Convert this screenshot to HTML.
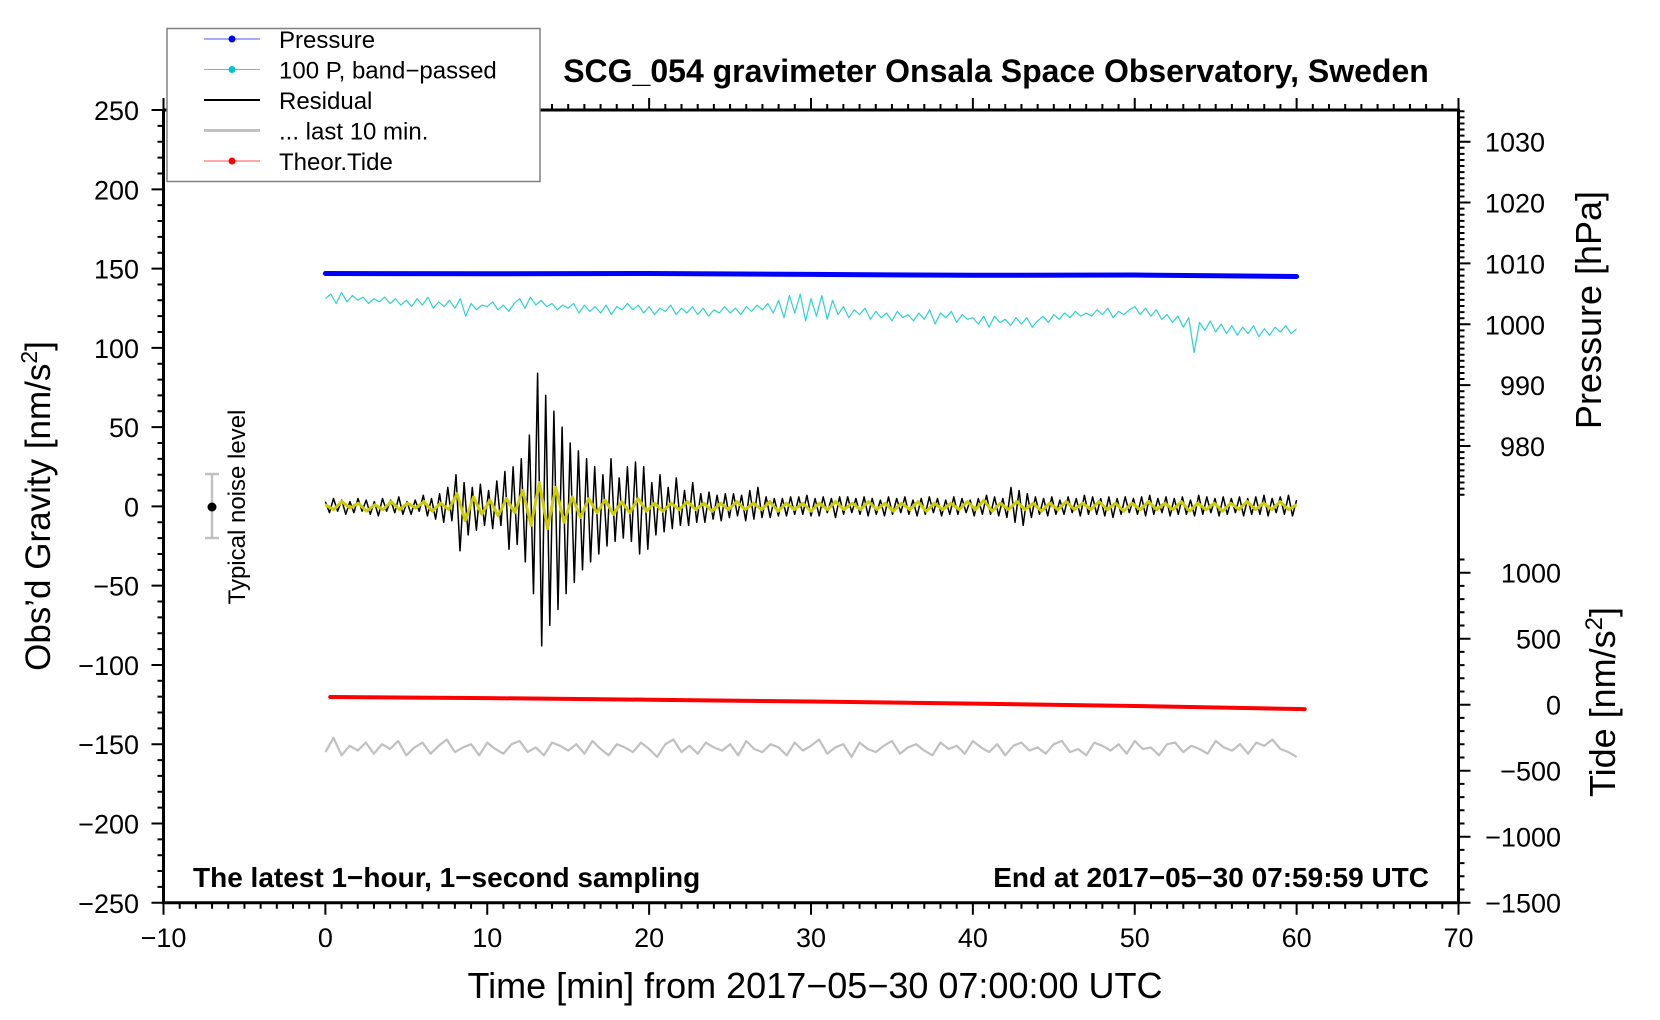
<!DOCTYPE html>
<html><head><meta charset="utf-8"><style>
body{margin:0;background:#fff}
svg{display:block;font-family:"Liberation Sans",sans-serif}
</style></head><body>
<svg id="chart" width="1660" height="1020" viewBox="0 0 1660 1020" xmlns="http://www.w3.org/2000/svg">
<rect width="1660" height="1020" fill="#fff"/>
<g id="plot"></g>
<g id="axes"></g>
<text x="996" y="82" font-size="32" font-weight="bold" text-anchor="middle">SCG_054 gravimeter Onsala Space Observatory, Sweden</text>
<text transform="translate(50,506) rotate(-90)" font-size="35" text-anchor="middle">Obs’d Gravity [nm/s<tspan font-size="23" dy="-13">2</tspan><tspan dy="13">]</tspan></text>
<text transform="translate(1601,310) rotate(-90)" font-size="36" text-anchor="middle">Pressure [hPa]</text>
<text transform="translate(1615,702) rotate(-90)" font-size="36" text-anchor="middle">Tide [nm/s<tspan font-size="24" dy="-13">2</tspan><tspan dy="13">]</tspan></text>
<text x="815" y="998" font-size="36" text-anchor="middle">Time [min] from 2017−05−30 07:00:00 UTC</text>
<text x="193" y="887" font-size="28" font-weight="bold">The latest 1−hour, 1−second sampling</text>
<text x="1429" y="887" font-size="28" font-weight="bold" text-anchor="end">End at 2017−05−30 07:59:59 UTC</text>
<g>
<line x1="212" y1="474" x2="212" y2="538" stroke="#c0c0c0" stroke-width="2.5"/>
<line x1="205" y1="474" x2="219" y2="474" stroke="#c0c0c0" stroke-width="2.5"/>
<line x1="205" y1="538" x2="219" y2="538" stroke="#c0c0c0" stroke-width="2.5"/>
<circle cx="212" cy="507" r="4.5" fill="#000"/>
<text transform="translate(245,507) rotate(-90)" font-size="24" text-anchor="middle">Typical noise level</text>
</g>
<g>
<rect x="167" y="28.5" width="373" height="153" fill="#fff" stroke="#808080" stroke-width="1.5"/>
<g><line x1="204" y1="39" x2="260" y2="39" stroke="#5050ff" stroke-width="1"/><circle cx="232" cy="39" r="3.5" fill="#0000ff"/><text x="279" y="48" font-size="24">Pressure</text></g>
<g><line x1="204" y1="69.5" x2="260" y2="69.5" stroke="#40d0d0" stroke-width="1"/><circle cx="232" cy="69.5" r="3.5" fill="#00c8c8"/><text x="279" y="78.5" font-size="24">100 P, band−passed</text></g>
<g><line x1="204" y1="100" x2="260" y2="100" stroke="#000" stroke-width="2"/><text x="279" y="109" font-size="24">Residual</text></g>
<g><line x1="204" y1="130.5" x2="260" y2="130.5" stroke="#c0c0c0" stroke-width="3"/><text x="279" y="139.5" font-size="24">... last 10 min.</text></g>
<g><line x1="204" y1="161" x2="260" y2="161" stroke="#ff5050" stroke-width="1"/><circle cx="232" cy="161" r="3.5" fill="#ff0000"/><text x="279" y="170" font-size="24">Theor.Tide</text></g>
</g>
</svg>
<script>
const pressureTimes=[0,10,20,30,40,50,60];
const pressureValues=[1008.35,1008.3,1008.35,1008.2,1008.05,1008.1,1007.85];
const tideTimes=[0.3,10,20,30,40,50,60.5];
const tideValues=[58,50,38,24,8,-10,-33];
const bandpassValues=[131,134,128,135,129,133,130,132,128,131,129,132,128,131,127,130,126,131,127,132,125,129,126,130,125,131,120,128,124,127,126,129,124,127,123,128,131,125,132,127,130,126,128,124,127,125,128,122,127,123,126,122,127,121,126,124,128,124,127,122,126,121,125,123,127,121,125,122,126,121,125,120,124,122,126,122,125,121,126,123,127,124,128,122,130,119,133,122,134,117,131,120,133,118,130,121,126,119,124,121,125,118,123,119,122,117,123,119,121,117,122,118,124,115,122,119,123,116,121,118,119,115,120,113,120,116,118,114,119,115,119,113,117,120,116,121,118,122,119,123,120,122,120,124,121,125,119,123,121,124,126,121,125,120,124,118,121,116,120,113,119,97,116,111,117,110,115,109,114,108,113,109,114,107,112,108,113,110,114,109,112];
const residualValues=[3,-4,5,-3,4,-5,3,-4,5,-3,4,-5,3,-6,5,-3,4,-4,6,-5,3,-5,4,-3,7,-6,5,-8,8,-10,12,-9,20,-28,15,-18,12,-15,14,-12,10,-14,16,-12,22,-27,25,-24,30,-35,45,-55,84,-88,70,-75,60,-65,50,-55,40,-48,35,-40,30,-35,25,-30,20,-25,30,-22,18,-20,25,-22,28,-30,25,-27,15,-18,20,-16,12,-14,18,-12,10,-12,15,-10,8,-10,9,-8,7,-9,8,-7,8,-6,7,-9,10,-8,12,-7,6,-7,5,-6,5,-6,6,-5,6,-5,7,-6,5,-6,6,-4,5,-7,6,-5,6,-4,5,-5,6,-6,5,-5,4,-6,6,-5,5,-4,6,-5,4,-6,5,-5,6,-4,5,-6,4,-5,6,-5,5,-4,4,-6,5,-5,7,-5,6,-6,5,-7,12,-10,10,-12,8,-7,6,-5,5,-6,6,-5,4,-5,6,-4,5,-6,7,-5,6,-5,5,-6,6,-7,5,-5,6,-4,5,-5,6,-6,7,-5,5,-4,6,-6,5,-5,6,-5,4,-6,7,-5,6,-4,5,-6,6,-5,5,-4,6,-6,5,-5,6,-5,7,-6,5,-4,6,-5,7,-6,4];
const smoothValues=[1,-2,3,-1,2,-3,1,-2,3,-2,2,-1,3,-3,2,-2,8,-9,6,-5,4,-6,5,-4,10,-12,15,-14,12,-10,6,-7,5,-4,4,-5,3,-4,5,-3,2,-3,2,-2,3,-2,2,-3,2,-2,3,-2,2,-2,3,-3,2,-2,2,-3,2,-2,3,-2,2,-2,3,-2,2,-3,2,-2,3,-3,2,-2,2,-2,3,-2,4,-3,2,-2,3,-2,2,-3,2,-2,3,-2,2,-2,3,-2,2,-3,2,-2,3,-2,2,-2,3,-3,2,-2,2,-3,2,-2,3,-2,2,-2,3,-2,1];
const last10Values=[-155,-146,-157,-151,-154,-149,-156,-150,-153,-148,-157,-152,-149,-156,-151,-147,-155,-152,-150,-157,-149,-153,-156,-150,-148,-155,-152,-157,-149,-151,-154,-150,-156,-148,-153,-157,-150,-152,-155,-149,-153,-158,-150,-147,-155,-151,-156,-149,-152,-154,-150,-157,-148,-153,-155,-150,-152,-157,-149,-154,-151,-147,-156,-152,-150,-158,-149,-153,-155,-151,-148,-156,-152,-150,-154,-157,-149,-153,-151,-156,-148,-152,-155,-150,-157,-151,-149,-154,-152,-156,-150,-148,-155,-153,-157,-149,-151,-154,-150,-156,-148,-153,-152,-157,-150,-149,-155,-151,-153,-156,-148,-152,-154,-150,-156,-149,-151,-147,-153,-155,-158];
const xTicks=[-10,0,10,20,30,40,50,60,70];
const yTicks=[250,200,150,100,50,0,-50,-100,-150,-200,-250];
const pTicks=[1030,1020,1010,1000,990,980];
const tTicks=[1000,500,0,-500,-1000,-1500];

const XL=163.5,XR=1458.5,YT=110,YB=902.7;
const X=m=>XL+(m+10)*(XR-XL)/80;
const Y=g=>506.4-g*(YB-YT)/500;
const P=h=>141.7+(1030-h)*6.086;
const T=t=>704.7-t*0.132;
const NS='http://www.w3.org/2000/svg';
const plot=document.getElementById('plot'),axes=document.getElementById('axes');
function mk(tag,parent,attrs){const e=document.createElementNS(NS,tag);for(const k in attrs)e.setAttribute(k,attrs[k]);parent.appendChild(e);return e;}
function series(vals,yf,name,stroke,w){
  const n=vals.length;let d='';
  vals.forEach((v,i)=>{d+=(i?'L':'M')+X(i*60/(n-1)).toFixed(1)+' '+yf(v).toFixed(1);});
  const p=mk('path',plot,{d:d,fill:'none',stroke:stroke,'stroke-width':w,'stroke-linejoin':'round'});
  
  
}
function xy(ts,vs,yf,name,stroke,w){
  let d='';ts.forEach((t,i)=>{d+=(i?'L':'M')+X(t).toFixed(1)+' '+yf(vs[i]).toFixed(1);});
  const p=mk('path',plot,{d:d,fill:'none',stroke:stroke,'stroke-width':w,'stroke-linecap':'round'});
  
  
}
xy(pressureTimes,pressureValues,P,'pressure-line','#0000ff',5);
series(bandpassValues,Y,'bandpassed-pressure-line','#30d0d0',1.2);
series(last10Values,Y,'last-10-min-line','#c0c0c0',2.2);
series(residualValues,Y,'residual-line','#000',1.5);
series(smoothValues,Y,'residual-smoothed-line','#cccc00',3);
xy(tideTimes,tideValues,T,'tide-line','#ff0000',4);

const frame=mk('path',axes,{d:`M${XL} ${YT}V${YB}H${XR}V${YT}H${XL}`,fill:'none',stroke:'#000','stroke-width':3});


let td='';
for(let m=-10;m<=70;m++){const L=m%10===0?12:6;td+=`M${X(m)} ${YB}v${L}M${X(m)} ${YT}v${-L}`;}
for(let g=-250;g<=250;g+=10){const L=g%50===0?12:6;td+=`M${XL} ${Y(g)}h${-L}`;}
for(let h=972;h<=1035;h++){const L=h%10===0?12:6;td+=`M${XR} ${P(h)}h${L}`;}
for(let t=-1500;t<=1100;t+=100){const L=t%500===0?12:6;td+=`M${XR} ${T(t)}h${L}`;}
const tk=mk('path',axes,{d:td,stroke:'#000','stroke-width':2,fill:'none'});


const lbl=(x,y,s,a,name)=>{const e=mk('text',axes,{x:x,y:y,'font-size':27,'text-anchor':a});e.textContent=s;};
const fmt=v=>String(v).replace('-','−');
xTicks.forEach(v=>lbl(X(v),947,fmt(v),'middle','x-tick-label'));
yTicks.forEach(v=>lbl(139,Y(v)+10,fmt(v),'end','y-tick-label'));
pTicks.forEach(v=>lbl(1545,P(v)+10,fmt(v),'end','pressure-tick-label'));
tTicks.forEach(v=>lbl(1561,T(v)+10,fmt(v),'end','tide-tick-label'));
</script>
</body></html>
